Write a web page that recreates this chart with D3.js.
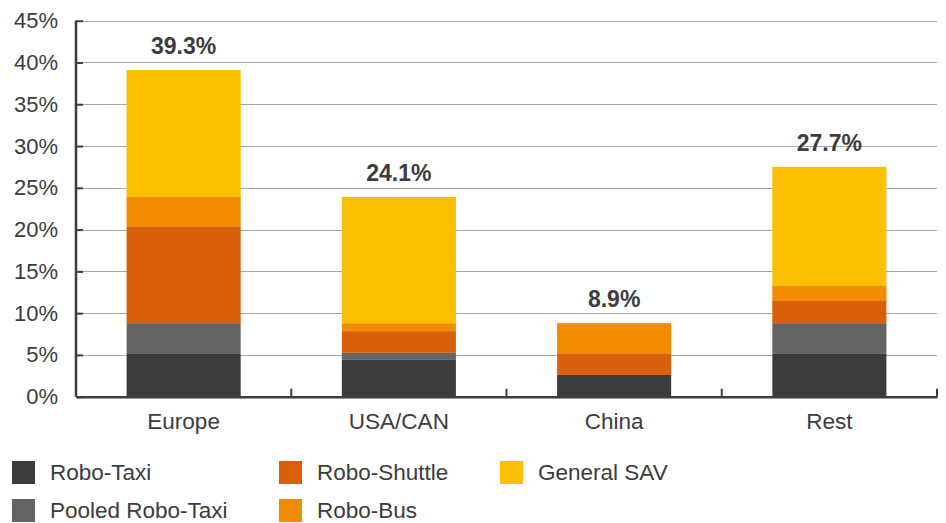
<!DOCTYPE html>
<html>
<head>
<meta charset="utf-8">
<script src="https://cdn.jsdelivr.net/npm/d3@7"></script>
<style>
  body { margin: 0; background: #fff; }
  svg { display: block; font-family: "Liberation Sans", Arial, sans-serif; }
</style>
</head>
<body>
<div id="chart"></div>
<script>
// ── Data ─────────────────────────────────────────────
const REGIONS = ["Europe", "USA/CAN", "China", "Rest"];
const SERIES = ["Robo-Taxi", "Pooled Robo-Taxi", "Robo-Shuttle", "Robo-Bus", "General SAV"];
const COLORS = ["#3c3c3b", "#646464", "#d95f0a", "#f18c00", "#fbbe00"];

const roboTaxi       = [5.2, 4.4, 2.6, 5.2];
const pooledRoboTaxi = [3.6, 0.85, 0.0, 3.6];
const roboShuttle    = [11.6, 2.6, 2.6, 2.65];
const roboBus        = [3.5, 0.95, 3.6, 1.8];
const generalSAV     = [15.2, 15.1, 0.0, 14.25];
const TOTAL_LABELS   = ["39.3%", "24.1%", "8.9%", "27.7%"];
const Y_TICKS        = [0, 5, 10, 15, 20, 25, 30, 35, 40, 45];

const values = [roboTaxi, pooledRoboTaxi, roboShuttle, roboBus, generalSAV];
const rows = REGIONS.map((r, i) => {
    const o = { region: r };
    SERIES.forEach((s, k) => { o[s] = values[k][i]; });
    return o;
});

// ── Layout ───────────────────────────────────────────
const W = 946, H = 523;
const plotL = 76, plotR = 937, plotT = 20.7, plotB = 396.7;
const textColor = "#3c3c3c";

const svg = d3.select("#chart").append("svg")
    .attr("width", W).attr("height", H);

const x = d3.scaleBand().domain(REGIONS).range([plotL, plotR])
    .paddingInner(0.47).paddingOuter(0.235);
const xCat = d3.scaleBand().domain(REGIONS).range([plotL, plotR]).padding(0);
const y = d3.scaleLinear().domain([0, 45]).range([plotB, plotT]);

// gridlines
svg.append("g").selectAll("line")
    .data(Y_TICKS.filter(d => d > 0))
    .join("line")
    .attr("x1", plotL).attr("x2", plotR)
    .attr("y1", d => Math.round(y(d)) + 0.5).attr("y2", d => Math.round(y(d)) + 0.5)
    .attr("stroke", "#a6a6a6").attr("stroke-width", 1);

// stacked bars
const stack = d3.stack().keys(SERIES)(rows);
svg.append("g").selectAll("g")
    .data(stack)
    .join("g")
    .attr("fill", (d, i) => COLORS[i])
    .selectAll("rect")
    .data(d => d)
    .join("rect")
    .attr("x", d => x(d.data.region))
    .attr("width", x.bandwidth())
    .attr("y", d => y(d[1]))
    .attr("height", d => Math.max(0, y(d[0]) - y(d[1])));

// y axis
const yAxis = svg.append("g")
    .attr("transform", `translate(${plotL},0)`)
    .call(d3.axisRight(y).tickValues(Y_TICKS).tickSize(7).tickFormat(d => d + "%"));
yAxis.select(".domain").attr("stroke", textColor).attr("stroke-width", 2.5)
    .attr("d", `M0,${plotT}V${plotB}`);
yAxis.selectAll(".tick line").attr("stroke", textColor).attr("stroke-width", 2);
yAxis.selectAll(".tick text")
    .attr("x", -18).attr("text-anchor", "end")
    .attr("fill", textColor).style("font-size", "22px");

// x axis
const xAxis = svg.append("g")
    .attr("transform", `translate(0,${plotB})`)
    .call(d3.axisBottom(xCat).tickSize(0).tickPadding(16));
xAxis.select(".domain").attr("stroke", textColor).attr("stroke-width", 2.5);
xAxis.selectAll(".tick text").attr("fill", textColor).style("font-size", "22.5px");
svg.append("g").selectAll("line")
    .data(REGIONS.slice(1).map(r => xCat(r)).concat([plotR]))
    .join("line")
    .attr("x1", d => d).attr("x2", d => d)
    .attr("y1", plotB).attr("y2", plotB - 8)
    .attr("stroke", textColor).attr("stroke-width", 2);

// totals
svg.append("g").selectAll("text")
    .data(rows)
    .join("text")
    .attr("x", d => x(d.region) + x.bandwidth() / 2)
    .attr("y", d => y(d3.sum(SERIES, s => d[s])) - 16)
    .attr("text-anchor", "middle")
    .attr("fill", textColor)
    .style("font-size", "23px").style("font-weight", "bold")
    .text((d, i) => TOTAL_LABELS[i]);

// legend
const legendPos = [[12, 461], [12, 499], [279, 461], [279, 499], [500, 461]];
const lg = svg.append("g").selectAll("g")
    .data(SERIES)
    .join("g")
    .attr("transform", (d, i) => `translate(${legendPos[i][0]},${legendPos[i][1]})`);
lg.append("rect").attr("width", 23).attr("height", 23)
    .attr("fill", (d, i) => COLORS[i]);
lg.append("text").attr("x", 38).attr("y", 19)
    .attr("fill", textColor).style("font-size", "22.5px")
    .text(d => d);
</script>
</body>
</html>
